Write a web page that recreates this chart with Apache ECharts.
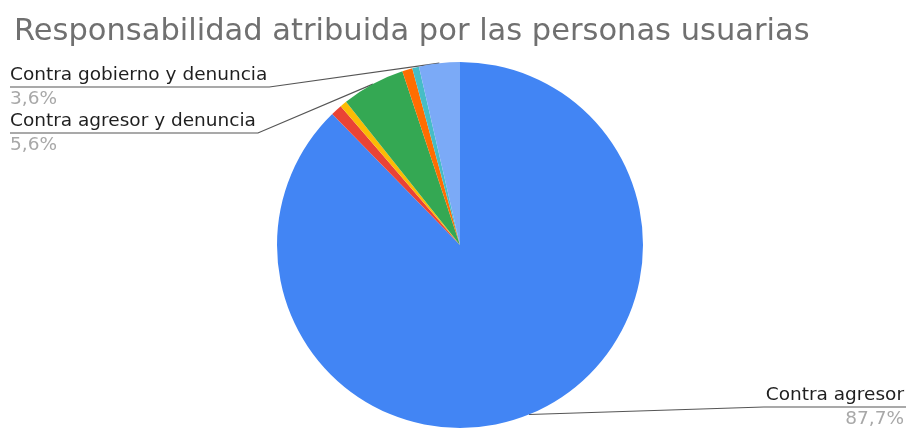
<!DOCTYPE html>
<html>
<head>
<meta charset="utf-8">
<script src="https://cdn.jsdelivr.net/npm/echarts@6/dist/echarts.min.js"></script>
<style>
  html, body { margin: 0; padding: 0; background: #fff; }
  #chart { width: 915px; height: 432px; }
</style>
</head>
<body>
<div id="chart"></div>
<script>
// Shares (%) of attributed responsibility, in clockwise order from 12 o'clock
const categories = [
  'Contra agresor',
  'Contra gobierno',
  'Contra institución',
  'Contra agresor y denuncia',
  'Contra agresor y gobierno',
  'Otros',
  'Contra gobierno y denuncia'
];
const shares = [87.7, 1.0, 0.6, 5.6, 0.9, 0.6, 3.6];
const sliceColors = ['#4285F4', '#EA4335', '#FBBC04', '#34A853', '#FF6D01', '#46BDC6', '#7BAAF7'];

// Slices that carry an outside label, with the side and the underline height
const labelled = {
  'Contra gobierno y denuncia': { side: 'left', y: 87 },
  'Contra agresor y denuncia': { side: 'left', y: 133 },
  'Contra agresor': { side: 'right', y: 407 }
};

const W = 915;
const EDGE_LEFT = 10;
const EDGE_RIGHT = W - 11;

const fmtPct = v => v.toFixed(1).replace('.', ',') + '%';

const chart = echarts.init(document.getElementById('chart'), null, { renderer: 'canvas' });

const data = categories.map((name, i) => {
  const item = { name, value: shares[i], itemStyle: { color: sliceColors[i] } };
  if (!labelled[name]) {
    item.label = { show: false };
    item.labelLine = { show: false };
  }
  return item;
});

chart.setOption({
  animation: false,
  backgroundColor: '#ffffff',
  title: {
    text: 'Responsabilidad atribuida por las personas usuarias',
    left: 9,
    top: 12,
    textStyle: {
      fontFamily: 'DejaVu Sans',
      fontSize: 30.5,
      fontWeight: 'normal',
      color: '#707070'
    }
  },
  series: [{
    type: 'pie',
    center: [460, 245],
    radius: 183,
    startAngle: 90,
    clockwise: true,
    data,
    itemStyle: { borderWidth: 0 },
    emphasis: { disabled: true },
    label: {
      show: true,
      position: 'outside',
      fontFamily: 'DejaVu Sans',
      formatter: p => '{name|' + p.name + '}\n{pct|' + fmtPct(p.value) + '}',
      rich: {
        name: { fontFamily: 'DejaVu Sans', fontSize: 18.5, color: '#1f1f1f', lineHeight: 25 },
        pct: { fontFamily: 'DejaVu Sans', fontSize: 18.5, color: '#a8a8a8', lineHeight: 23 }
      }
    },
    labelLine: {
      show: true,
      lineStyle: { color: '#555555', width: 1.2 }
    },
    labelLayout: function (p) {
      const name = categories[p.dataIndex];
      const spot = labelled[name];
      if (!spot) return {};
      const w = p.labelRect.width;
      const start = p.labelLinePoints ? p.labelLinePoints[0] : null;
      let out;
      if (spot.side === 'left') {
        out = { x: EDGE_LEFT, y: spot.y, align: 'left', verticalAlign: 'middle' };
        if (start) out.labelLinePoints = [start, [EDGE_LEFT + w + 2, spot.y], [EDGE_LEFT, spot.y]];
      } else {
        out = { x: EDGE_RIGHT, y: spot.y, align: 'right', verticalAlign: 'middle' };
        if (start) out.labelLinePoints = [start, [EDGE_RIGHT - w - 2, spot.y], [EDGE_RIGHT + 2, spot.y]];
      }
      return out;
    }
  }]
});
</script>
</body>
</html>
